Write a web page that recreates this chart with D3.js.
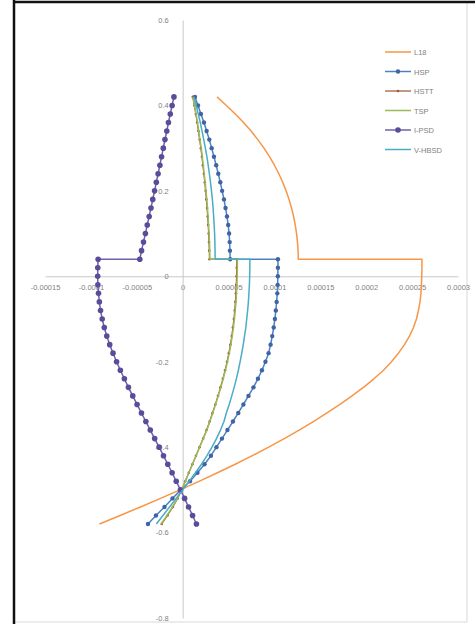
<!DOCTYPE html>
<html>
<head>
<meta charset="utf-8">
<script src="https://cdn.jsdelivr.net/npm/d3@7"></script>
<style>
  html, body { margin: 0; padding: 0; background: #ffffff; }
  svg { display: block; font-family: "Liberation Sans", Arial, sans-serif; }
</style>
</head>
<body>
<svg id="chart" width="475" height="624"></svg>
<script>
// Elevation of every station (upper part 0.42 → 0.04, lower part 0.04 → -0.58)
const depth = [
  0.42, 0.40, 0.38, 0.36, 0.34, 0.32, 0.30, 0.28, 0.26, 0.24,
  0.22, 0.20, 0.18, 0.16, 0.14, 0.12, 0.10, 0.08, 0.06, 0.04,
  0.04, 0.02, 0.00, -0.02, -0.04, -0.06, -0.08, -0.10, -0.12, -0.14,
  -0.16, -0.18, -0.20, -0.22, -0.24, -0.26, -0.28, -0.30, -0.32, -0.34,
  -0.36, -0.38, -0.40, -0.42, -0.44, -0.46, -0.48, -0.50, -0.52, -0.54,
  -0.56, -0.58
];

// Values in units of 1e-5
const seriesL18 = [
  3.74, 4.76, 5.73, 6.63, 7.45, 8.19, 8.86, 9.46, 10.00, 10.48,
  10.90, 11.27, 11.59, 11.86, 12.09, 12.27, 12.41, 12.51, 12.57, 12.60,
  26.07, 26.07, 26.05, 26.02, 25.96, 25.86, 25.69, 25.47, 25.15, 24.71,
  24.17, 23.51, 22.75, 21.88, 20.84, 19.70, 18.45, 17.14, 15.72, 14.24,
  12.69, 11.07, 9.37, 7.59, 5.73, 3.79, 1.78, -0.29, -2.42, -4.60,
  -6.82, -9.07
];
const seriesHSP = [
  1.34, 1.67, 1.99, 2.32, 2.61, 2.90, 3.16, 3.41, 3.65, 3.88,
  4.10, 4.30, 4.50, 4.67, 4.83, 4.96, 5.06, 5.12, 5.15, 5.18,
  10.38, 10.38, 10.37, 10.35, 10.31, 10.24, 10.15, 10.05, 9.92, 9.76,
  9.58, 9.36, 9.02, 8.64, 8.20, 7.71, 7.17, 6.62, 6.06, 5.48,
  4.88, 4.28, 3.68, 3.08, 2.38, 1.61, 0.80, -0.19, -1.11, -1.98,
  -2.91, -3.78
];
const seriesHST = [
  1.10, 1.27, 1.43, 1.58, 1.72, 1.85, 1.98, 2.10, 2.20, 2.31,
  2.41, 2.50, 2.58, 2.66, 2.72, 2.78, 2.83, 2.87, 2.90, 2.92,
  5.90, 5.89, 5.87, 5.84, 5.80, 5.74, 5.67, 5.58, 5.47, 5.35,
  5.20, 5.03, 4.84, 4.62, 4.38, 4.12, 3.85, 3.56, 3.25, 2.94,
  2.61, 2.23, 1.84, 1.45, 1.06, 0.67, 0.28, -0.11, -0.55, -1.07,
  -1.65, -2.28
];
const seriesTSP = [
  1.12, 1.30, 1.46, 1.61, 1.75, 1.88, 2.02, 2.14, 2.24, 2.35,
  2.45, 2.54, 2.63, 2.70, 2.77, 2.82, 2.88, 2.92, 2.95, 2.97,
  5.97, 5.96, 5.94, 5.91, 5.86, 5.81, 5.73, 5.64, 5.53, 5.40,
  5.25, 5.08, 4.88, 4.66, 4.42, 4.16, 3.88, 3.58, 3.28, 2.96,
  2.64, 2.24, 1.85, 1.46, 1.07, 0.68, 0.29, -0.10, -0.57, -1.11,
  -1.71, -2.36
];
const seriesIPSD = [
  -0.95, -1.15, -1.35, -1.55, -1.73, -1.93, -2.11, -2.30, -2.48, -2.68,
  -2.87, -3.06, -3.26, -3.45, -3.65, -3.86, -4.06, -4.27, -4.48, -4.67,
  -9.21, -9.25, -9.26, -9.24, -9.17, -9.08, -8.95, -8.77, -8.54, -8.27,
  -7.95, -7.59, -7.20, -6.79, -6.35, -5.91, -5.44, -4.97, -4.49, -4.01,
  -3.53, -3.05, -2.57, -2.09, -1.62, -1.15, -0.70, -0.24, 0.21, 0.64,
  1.08, 1.50
];
const seriesVHBSD = [
  1.23, 1.47, 1.70, 1.92, 2.11, 2.30, 2.47, 2.64, 2.78, 2.91,
  3.03, 3.14, 3.24, 3.31, 3.38, 3.43, 3.48, 3.51, 3.53, 3.54,
  7.33, 7.32, 7.30, 7.27, 7.22, 7.16, 7.08, 6.98, 6.88, 6.74,
  6.60, 6.44, 6.26, 6.07, 5.85, 5.61, 5.35, 5.07, 4.76, 4.50,
  4.12, 3.68, 3.19, 2.65, 2.05, 1.39, 0.71, 0.01, -0.71, -1.43,
  -2.15, -2.87
];

const seriesNames = ["L18", "HSP", "HSTT", "TSP", "I-PSD", "V-HBSD"];

const xTickValues = [-15, -10, -5, 0, 5, 10, 15, 20, 25, 30];
const xTickLabels = ["-0.00015", "-0.0001", "-0.00005", "0", "0.00005", "0.0001", "0.00015", "0.0002", "0.00025", "0.0003"];
const yTickValues = [0.6, 0.4, 0.2, 0, -0.2, -0.4, -0.6, -0.8];
const yTickLabels = ["0.6", "0.4", "0.2", "0", "-0.2", "-0.4", "-0.6", "-0.8"];

// ---- drawing ----
const svg = d3.select("#chart");

// frame
svg.append("rect").attr("x", 0).attr("y", 0).attr("width", 475).attr("height", 624).attr("fill", "#ffffff");
svg.append("line").attr("x1", 467).attr("x2", 467).attr("y1", 2).attr("y2", 622)
  .attr("stroke", "#d9d9d9").attr("stroke-width", 1);
svg.append("line").attr("x1", 14).attr("x2", 467).attr("y1", 622).attr("y2", 622)
  .attr("stroke", "#d9d9d9").attr("stroke-width", 1);
svg.append("line").attr("x1", 14).attr("x2", 14).attr("y1", 0).attr("y2", 624)
  .attr("stroke", "#111111").attr("stroke-width", 2.5);
svg.append("line").attr("x1", 13).attr("x2", 475).attr("y1", 2).attr("y2", 2)
  .attr("stroke", "#111111").attr("stroke-width", 2.5);

const x = d3.scaleLinear().domain([-15, 30]).range([45, 458]);
const y = d3.scaleLinear().domain([-0.8, 0.6]).range([618, 20]);

const axisColor = "#c8c8c8";
const labelColor = "#7f7f7f";

// horizontal axis through y = 0
const xAxis = d3.axisBottom(x)
  .tickValues(xTickValues)
  .tickFormat((d, i) => xTickLabels[i])
  .tickSize(0)
  .tickPadding(8);
const gx = svg.append("g").attr("transform", `translate(0,${y(0)})`).call(xAxis);
gx.select(".domain").attr("stroke", axisColor);
gx.selectAll("text").attr("fill", labelColor).style("font-size", "7.5px");

// vertical axis through x = 0
const yAxis = d3.axisLeft(y)
  .tickValues(yTickValues)
  .tickFormat((d, i) => yTickLabels[i])
  .tickSize(0)
  .tickPadding(14);
const gy = svg.append("g").attr("transform", `translate(${x(0)},0)`).call(yAxis);
gy.select(".domain").attr("stroke", axisColor);
gy.selectAll("text").attr("fill", labelColor).style("font-size", "7.5px");

const series = [
  { name: seriesNames[0], values: seriesL18,   color: "#F79646", width: 1.5, marker: 0 },
  { name: seriesNames[1], values: seriesHSP,   color: "#4F81BD", width: 1.5, marker: 2.2, markerColor: "#3E63A6" },
  { name: seriesNames[2], values: seriesHST,   color: "#A0522D", width: 1.2, marker: 1.3, markerColor: "#9E5A3A" },
  { name: seriesNames[3], values: seriesTSP,   color: "#9BBB59", width: 1.5, marker: 0 },
  { name: seriesNames[4], values: seriesIPSD,  color: "#7060A8", width: 1.5, marker: 2.8, markerColor: "#5A4C9A" },
  { name: seriesNames[5], values: seriesVHBSD, color: "#4BACC6", width: 1.5, marker: 0 }
];

const line = d3.line()
  .x(d => x(d[0]))
  .y(d => y(d[1]));

series.forEach(s => {
  const pts = s.values.map((v, i) => [v, depth[i]]);
  svg.append("path")
    .datum(pts)
    .attr("fill", "none")
    .attr("stroke", s.color)
    .attr("stroke-width", s.width)
    .attr("stroke-linejoin", "round")
    .attr("d", line);
  if (s.marker > 0) {
    svg.append("g").selectAll("circle")
      .data(pts)
      .join("circle")
      .attr("cx", d => x(d[0]))
      .attr("cy", d => y(d[1]))
      .attr("r", s.marker)
      .attr("fill", s.markerColor);
  }
});

// legend
const legend = svg.append("g").attr("transform", "translate(385,52)");
series.forEach((s, i) => {
  const g = legend.append("g").attr("transform", `translate(0,${i * 19.5})`);
  g.append("line").attr("x1", 0).attr("x2", 26).attr("y1", 0).attr("y2", 0)
    .attr("stroke", s.color).attr("stroke-width", s.width);
  if (s.marker > 0) {
    g.append("circle").attr("cx", 13).attr("cy", 0).attr("r", s.marker).attr("fill", s.markerColor);
  }
  g.append("text").attr("x", 29).attr("y", 3)
    .attr("fill", labelColor).style("font-size", "7.5px").text(s.name);
});
</script>
</body>
</html>
